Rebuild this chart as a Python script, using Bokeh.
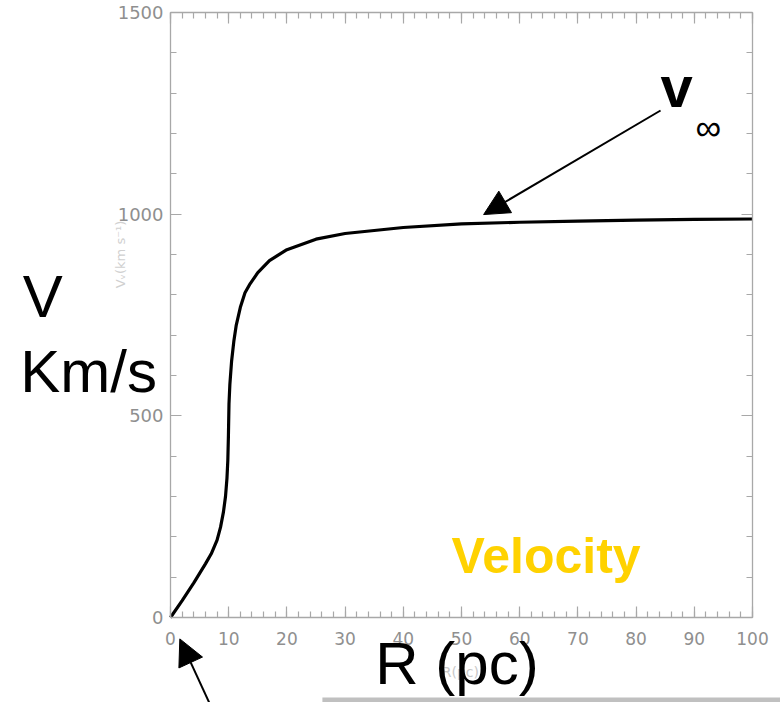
from bokeh.plotting import figure
from bokeh.models import (Range1d, LinearAxis, FixedTicker, Label, Arrow, NormalHead,
                          BoxAnnotation)
from bokeh.embed import file_html
from bokeh.resources import INLINE

# ---- data ----
r_pc = [0, 2, 4, 6, 7, 8, 8.6, 9.1, 9.45, 9.7, 9.85, 9.95, 10.05, 10.2,
        10.5, 10.9, 11.3, 12, 12.8, 13.7, 15, 17, 20, 25, 30, 40, 50, 60, 70, 80, 90, 100]
v_kms = [0, 42, 86, 133, 158, 192, 224, 262, 300, 345, 390, 450, 530, 578,
         636, 687, 725, 769, 805, 828, 855, 885, 912, 938, 952, 967, 976, 980, 983, 985, 987, 988]

x_major = [0, 10, 20, 30, 40, 50, 60, 70, 80, 90, 100]
x_minor = [i * 2 for i in range(51)]
y_major = [0, 500, 1000, 1500]
y_minor = [i * 100 for i in range(16)]

AX = "#a8a8a8"
TICKLAB = "#8f8f8f"

# frame spans the whole canvas; axes are drawn at fixed data locations
p = figure(width=780, height=702, output_backend="svg", toolbar_location=None,
           x_range=Range1d(-29.21, 104.81), y_range=Range1d(-210.7, 1529.75),
           x_axis_location=None, y_axis_location=None,
           min_border_left=0, min_border_right=0, min_border_top=0, min_border_bottom=0)
p.grid.visible = False
p.outline_line_color = None
p.background_fill_color = "white"
p.border_fill_color = "white"


def style(ax, labels, size="17px"):
    ax.axis_line_color = AX
    ax.axis_line_width = 1.3
    ax.major_tick_line_color = AX
    ax.minor_tick_line_color = AX
    ax.major_tick_line_width = 1.2
    ax.minor_tick_line_width = 1.2
    ax.major_tick_out = 0
    ax.minor_tick_out = 0
    ax.major_tick_in = 11
    ax.minor_tick_in = 6
    if labels:
        ax.major_label_text_font = "DejaVu Sans"
        ax.major_label_text_font_size = size
        ax.major_label_text_color = TICKLAB
    else:
        ax.major_label_text_color = None
        ax.major_label_standoff = 0


bottom = LinearAxis(ticker=FixedTicker(ticks=x_major, minor_ticks=x_minor),
                    fixed_location=0, bounds=(0, 100))
style(bottom, True, "17px")
bottom.major_label_standoff = 14
p.add_layout(bottom, "below")

top = LinearAxis(ticker=FixedTicker(ticks=x_major, minor_ticks=x_minor),
                 fixed_location=1500, bounds=(0, 100))
style(top, False)
p.add_layout(top, "above")

left = LinearAxis(ticker=FixedTicker(ticks=y_major, minor_ticks=y_minor),
                  fixed_location=0, bounds=(0, 1500))
style(left, True, "18px")
left.major_label_standoff = 7
p.add_layout(left, "left")

right = LinearAxis(ticker=FixedTicker(ticks=y_major, minor_ticks=y_minor),
                   fixed_location=100, bounds=(0, 1500))
style(right, False)
p.add_layout(right, "right")

# curve
p.line(r_pc, v_kms, line_color="black", line_width=3.2)

# faint original axis titles
p.add_layout(Label(x=-8.6, y=900, text="V\u1d65(km s\u207b\u00b9)", angle=1.5708,
                   text_align="center", text_baseline="middle",
                   text_font="DejaVu Sans", text_font_size="13px", text_color="#d0d0d0"))
p.add_layout(Label(x=49.8, y=-136, text="R(pc)", text_align="center", text_baseline="middle",
                   text_font="DejaVu Sans", text_font_size="14px", text_color="#c8c8c8"))

# slide footer remnants
p.add_layout(BoxAnnotation(left=16.7, bottom=-230, top=-210, fill_color="#f2a765",
                           fill_alpha=1, line_color=None))
p.add_layout(BoxAnnotation(left=26.1, bottom=-230, top=-198, fill_color="#c0c0c0",
                           fill_alpha=1, line_color=None))

# big overlay labels
big = dict(text_font="Liberation Sans", text_font_size="60px", text_color="black",
           text_baseline="alphabetic")
p.add_layout(Label(x=-25.4, y=795, text="V", **big))
p.add_layout(Label(x=-25.8, y=609, text="Km/s", **big))
p.add_layout(Label(x=35.2, y=-114, text="R (pc)", **big))

p.add_layout(Label(x=84.2, y=1235, text="v", text_font="Liberation Sans",
                   text_font_style="bold", text_font_size="58px", text_color="black"))
p.add_layout(Label(x=90.2, y=1165, text="\u221e", text_font="Liberation Sans",
                   text_font_size="36px", text_color="black"))

p.add_layout(Label(x=48.3, y=84, text="Velocity", text_font="Liberation Sans",
                   text_font_style="bold", text_font_size="50px", text_color="#FFD200"))

# arrows
p.add_layout(Arrow(x_start=84.2, y_start=1257, x_end=53.8, y_end=999,
                   line_color="black", line_width=2,
                   end=NormalHead(size=25, fill_color="black", line_color="black")))
p.add_layout(Arrow(x_start=7.9, y_start=-250, x_end=1.6, y_end=-53,
                   line_color="black", line_width=2,
                   end=NormalHead(size=26, fill_color="black", line_color="black")))

open("out.html", "w").write(file_html(p, INLINE))
